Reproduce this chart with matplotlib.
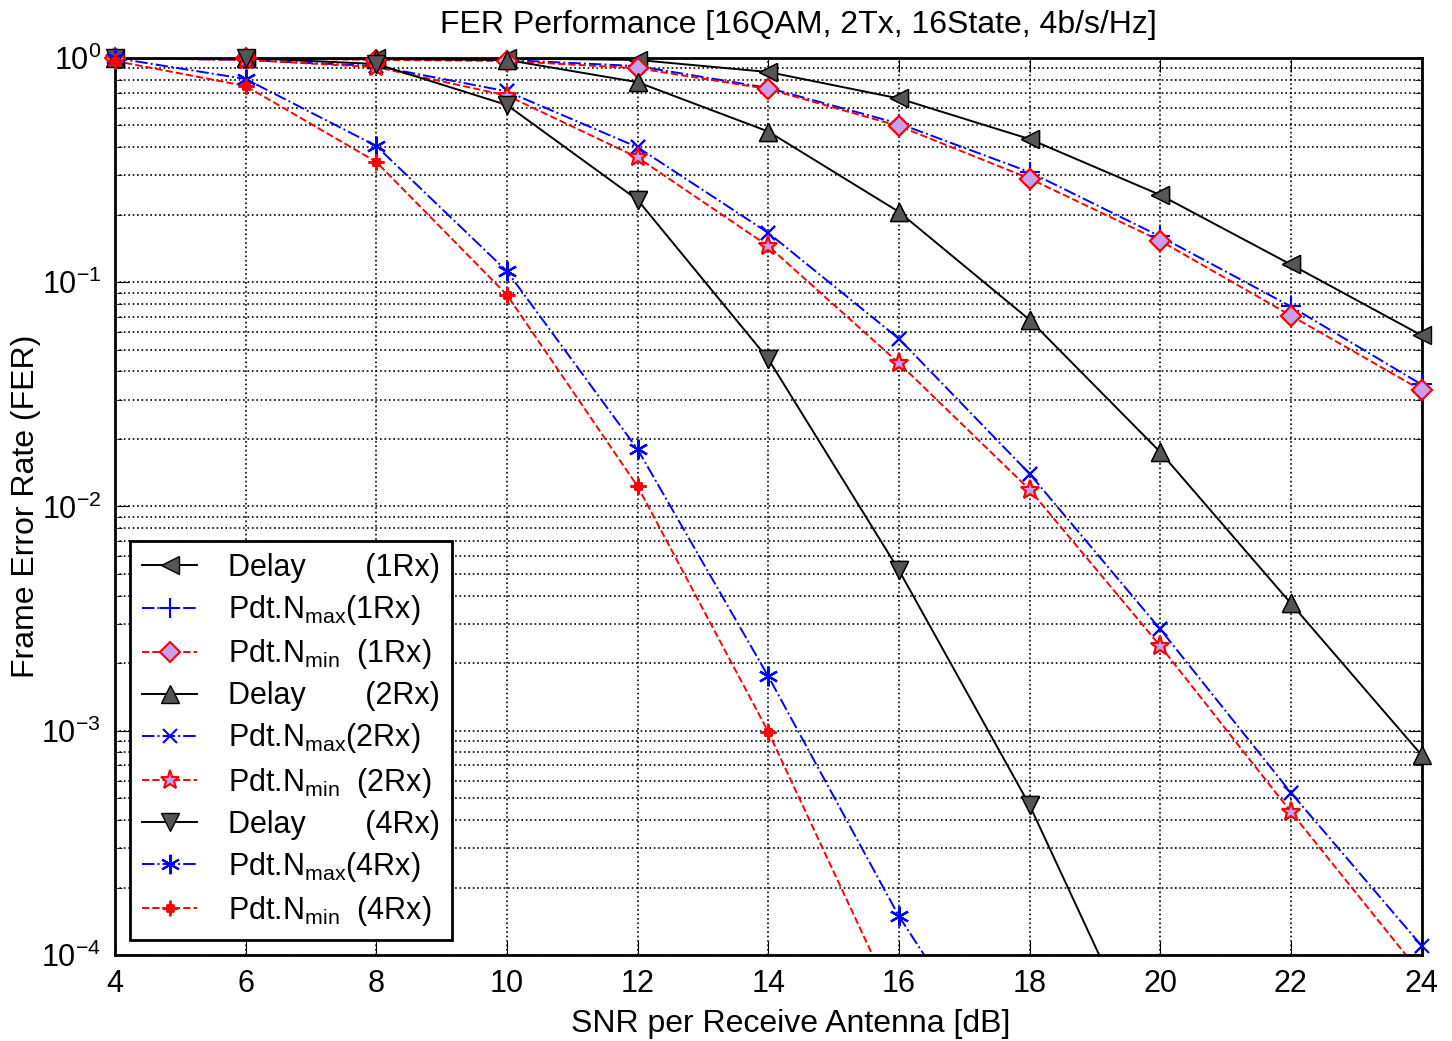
import numpy as np
import matplotlib
matplotlib.use("Agg")
import matplotlib.pyplot as plt
from matplotlib.path import Path

plt.rcParams['font.family'] = ['Liberation Sans', 'DejaVu Sans']
plt.rcParams['mathtext.fontset'] = 'custom'
plt.rcParams['mathtext.rm'] = 'Liberation Sans'
plt.rcParams['mathtext.it'] = 'Liberation Sans'

snr = [4, 6, 8, 10, 12, 14, 16, 18, 20, 22, 24]

delay_1rx = [1.0, 1.0, 1.0, 0.995, 0.98, 0.866, 0.66, 0.435, 0.245, 0.12, 0.058]
nmax_1rx = [1.0, 1.0, 0.99, 0.98, 0.92, 0.735, 0.51, 0.31, 0.16, 0.078, 0.035]
nmin_1rx = [1.0, 1.0, 0.98, 0.97, 0.90, 0.727, 0.497, 0.29, 0.153, 0.071, 0.033]

delay_2rx = [1.0, 1.0, 0.99, 0.98, 0.78, 0.47, 0.206, 0.068, 0.0175, 0.0037, 0.00078]
nmax_2rx = [1.0, 0.98, 0.92, 0.71, 0.40, 0.166, 0.056, 0.014, 0.00284, 0.00053, 0.00011]
nmin_2rx = [1.0, 0.98, 0.91, 0.68, 0.36, 0.145, 0.0436, 0.0119, 0.00239, 0.000435, 0.000082]

delay_4rx = [1.0, 1.0, 0.94, 0.617, 0.233, 0.0455, 0.0052, 0.000466, 0.000026]
nmax_4rx = [1.0, 0.806, 0.405, 0.112, 0.018, 0.00175, 0.000149, 0.000019]
nmin_4rx = [0.97, 0.75, 0.344, 0.0878, 0.0123, 0.00099, 0.000056]

# square with plus arms, like the matlab hexagram look in the source
sq_plus = Path(
    [(-0.5, -0.5), (0.5, -0.5), (0.5, 0.5), (-0.5, 0.5), (-0.5, -0.5),
     (-1.2, 0), (1.2, 0), (0, -1.2), (0, 1.2)],
    [Path.MOVETO, Path.LINETO, Path.LINETO, Path.LINETO, Path.CLOSEPOLY,
     Path.MOVETO, Path.LINETO, Path.MOVETO, Path.LINETO])

gray = '#555555'
lav = '#c8a0f0'

fig = plt.figure(figsize=(14.52, 10.41), dpi=100)
ax = fig.add_axes([0.0792, 0.0826, 0.8998, 0.8617])

sub = lambda s: r'Pdt.N$_{\mathrm{' + s + r'}}$'

series = [
    (delay_1rx, dict(color='k', ls='-', marker='<', mfc=gray, mec='k', ms=13),
     'Delay       (1Rx)'),
    (nmax_1rx, dict(color='b', ls='-.', marker='+', mfc='b', mec='b', ms=15, mew=1.5),
     sub('max') + '(1Rx)'),
    (nmin_1rx, dict(color='r', ls='--', marker='D', mfc=lav, mec='r', ms=10, mew=1.5),
     sub('min') + '  (1Rx)'),
    (delay_2rx, dict(color='k', ls='-', marker='^', mfc=gray, mec='k', ms=13),
     'Delay       (2Rx)'),
    (nmax_2rx, dict(color='b', ls='-.', marker='x', mfc='b', mec='b', ms=10, mew=1.5),
     sub('max') + '(2Rx)'),
    (nmin_2rx, dict(color='r', ls='--', marker='*', mfc=lav, mec='r', ms=14, mew=1.5),
     sub('min') + '  (2Rx)'),
    (delay_4rx, dict(color='k', ls='-', marker='v', mfc=gray, mec='k', ms=13),
     'Delay       (4Rx)'),
    (nmax_4rx, dict(color='b', ls='-.', marker=(6, 2, 0), mfc='b', mec='b', ms=14, mew=1.5),
     sub('max') + '(4Rx)'),
    (nmin_4rx, dict(color='r', ls='--', marker=sq_plus, mfc=lav, mec='r', ms=11, mew=2),
     sub('min') + '  (4Rx)'),
]

ymin, ymax = 1e-4, 1.0
for vals, kw, lab in series:
    x = np.array(snr[:len(vals)])
    y = np.array(vals)
    ax.semilogy(x, y, lw=1.4, label=lab, **kw)
    # markers on the frame are not cut off in the source
    keep = (y >= ymin) & (y <= ymax)
    mk = {k: v for k, v in kw.items() if k not in ('ls', 'color')}
    ax.semilogy(x[keep], y[keep], ls='none', clip_on=False, zorder=3, **mk)

ax.set_xlim(4, 24)
ax.set_ylim(ymin, ymax)
ax.set_xticks(np.arange(4, 25, 2))
ax.grid(True, which='major', ls=':', color='k', lw=1.2)
ax.grid(True, which='minor', axis='y', ls=':', color='k', lw=1.2)
ax.tick_params(which='both', direction='in', top=True, right=True, labelsize=22)
ax.tick_params(which='major', length=10, pad=10)
ax.tick_params(which='minor', length=5)
for s in ax.spines.values():
    s.set_linewidth(2)

ax.set_title('FER Performance [16QAM, 2Tx, 16State, 4b/s/Hz]', fontsize=23, pad=18, x=0.523)
ax.set_xlabel('SNR per Receive Antenna [dB]', fontsize=23)
ax.xaxis.set_label_coords(0.517, -0.06)
ax.set_ylabel('Frame Error Rate (FER)', fontsize=23)
ax.yaxis.set_label_coords(-0.057, 0.5)

leg = ax.legend(loc='lower left', bbox_to_anchor=(0.0115, 0.0167), fontsize=22,
                fancybox=False, framealpha=1, edgecolor='k', handlelength=1.8,
                labelspacing=0.33, borderpad=0.4, handletextpad=1.0,
                borderaxespad=0)
leg.get_frame().set_linewidth(2)

fig.savefig('out.png', dpi=100)
